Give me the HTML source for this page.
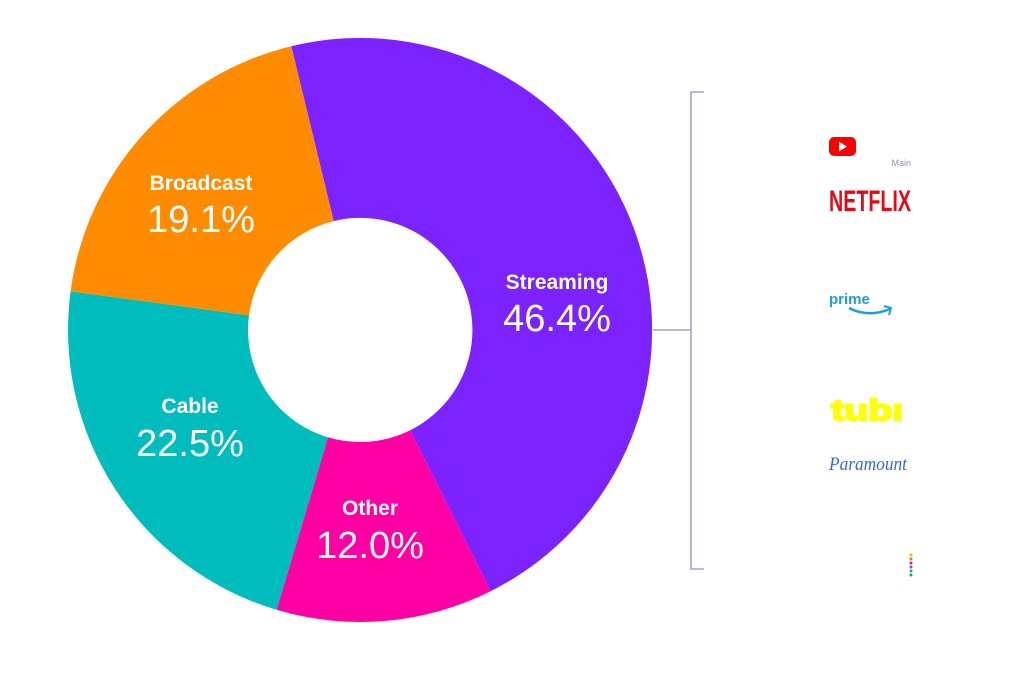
<!DOCTYPE html>
<html><head><style>html,body{margin:0;padding:0;background:#fff;}svg{display:block;}</style></head>
<body>
<svg width="1023" height="690" viewBox="0 0 1023 690" xmlns="http://www.w3.org/2000/svg" font-family="Liberation Sans, sans-serif">
<path d="M291.3,46.2 A292,292 0 0 1 490.8,591.1 L410.2,430.2 A112,112 0 0 0 333.7,221.1 Z" fill="#7B22FF"/>
<path d="M490.8,591.1 A292,292 0 0 1 276.6,609.8 L328.0,437.3 A112,112 0 0 0 410.2,430.2 Z" fill="#FF00A4"/>
<path d="M276.6,609.8 A292,292 0 0 1 70.6,291.4 L249.0,315.2 A112,112 0 0 0 328.0,437.3 Z" fill="#00BDBD"/>
<path d="M70.6,291.4 A292,292 0 0 1 291.3,46.2 L333.7,221.1 A112,112 0 0 0 249.0,315.2 Z" fill="#FF8C00"/>
<g fill="#fff" text-anchor="middle">
<text x="557" y="289" font-size="21" font-weight="bold">Streaming</text>
<text x="557" y="331" font-size="38" font-weight="300">46.4%</text>
<text x="201" y="190" font-size="21" font-weight="bold">Broadcast</text>
<text x="201" y="232" font-size="38">19.1%</text>
<text x="190" y="413" font-size="21" font-weight="bold">Cable</text>
<text x="190" y="456" font-size="38">22.5%</text>
<text x="370" y="515" font-size="21" font-weight="bold">Other</text>
<text x="370" y="558" font-size="38">12.0%</text>
</g>
<g stroke="#8A93B8" stroke-width="1.3" fill="none">
<path d="M704,92 H691 V569 H704"/>
<path d="M653,330 H691"/>
</g>
<rect x="829" y="137" width="27" height="19" rx="5" fill="#FF0000"/>
<path d="M839,141.5 L847,146.5 L839,151.5 Z" fill="#fff"/>
<text x="911" y="166" font-size="9" fill="#8A93B8" text-anchor="end">Main</text>
<text x="829" y="211" font-size="30" font-weight="bold" fill="#E50914" textLength="82" lengthAdjust="spacingAndGlyphs">NETFLIX</text>
<text x="829" y="304" font-size="15" font-weight="bold" fill="#1BA0E1">prime</text>
<path d="M849,308 Q868,318 890,309" stroke="#1BA0E1" stroke-width="2.5" fill="none"/>
<path d="M884,306 L891,308 L889,315" stroke="#1BA0E1" stroke-width="2" fill="none"/>
<text x="831" y="420" font-size="30" font-weight="bold" fill="#FFFF0D" stroke="#FFFF0D" stroke-width="2" textLength="72" lengthAdjust="spacingAndGlyphs">tubı</text>
<text x="829" y="470" font-size="19" font-style="italic" fill="#2F6AE5" font-family="Liberation Serif, serif" textLength="78" lengthAdjust="spacingAndGlyphs">Paramount</text>
<g>
<circle cx="911" cy="555" r="1.5" fill="#F8B400"/>
<circle cx="911" cy="559" r="1.5" fill="#F36B21"/>
<circle cx="911" cy="563" r="1.5" fill="#E91E63"/>
<circle cx="911" cy="567" r="1.5" fill="#7B4FE0"/>
<circle cx="911" cy="571" r="1.5" fill="#1BA0E1"/>
<circle cx="911" cy="575" r="1.5" fill="#21A84E"/>
</g>
</svg>
</body></html>
